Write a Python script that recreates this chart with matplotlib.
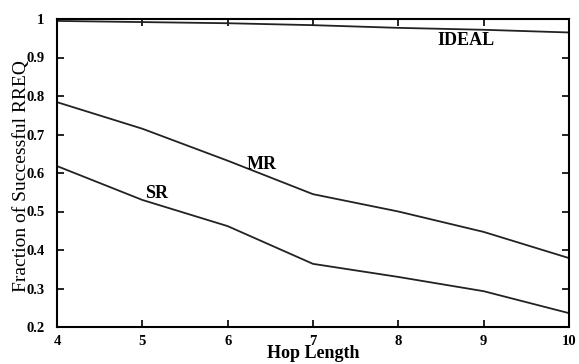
import matplotlib
matplotlib.use("Agg")
import matplotlib.pyplot as plt

hops = [4, 5, 6, 7, 8, 9, 10]
ideal = [0.995, 0.992, 0.989, 0.984, 0.977, 0.972, 0.965]
mr = [0.784, 0.715, 0.632, 0.545, 0.500, 0.447, 0.379]
sr = [0.618, 0.530, 0.462, 0.364, 0.330, 0.293, 0.236]
xticks = [4, 5, 6, 7, 8, 9, 10]
yticks = [0.2, 0.3, 0.4, 0.5, 0.6, 0.7, 0.8, 0.9, 1.0]
ytick_labels = ["0.2", "0.3", "0.4", "0.5", "0.6", "0.7", "0.8", "0.9", "1"]

plt.rcParams['font.family'] = ['Liberation Serif', 'DejaVu Serif']

fig = plt.figure(figsize=(5.79, 3.64), dpi=100)
ax = fig.add_axes([57/579, 1-327/364, (569-57)/579, (327-19)/364])

for series in (ideal, mr, sr):
    ax.plot(hops, series, color='#222222', lw=1.3)

ax.set_xlim(4, 10)
ax.set_ylim(0.2, 1.0)
ax.set_xticks(xticks)
ax.set_yticks(yticks)
ax.set_yticklabels(ytick_labels)
ax.tick_params(direction='in', top=True, right=True, length=5, width=1.2,
               labelsize=10.5)
ax.tick_params(axis='y', pad=9)
ax.tick_params(axis='x', pad=6)
for lab in ax.get_xticklabels() + ax.get_yticklabels():
    lab.set_fontweight('bold')
for s in ax.spines.values():
    s.set_linewidth(1.5)

ax.text(8.79, 0.943, "IDEAL", fontsize=13, fontweight='bold', ha='center', va='center')
ax.text(6.40, 0.621, "MR", fontsize=13, fontweight='bold', ha='center', va='center')
ax.text(5.17, 0.548, "SR", fontsize=13, fontweight='bold', ha='center', va='center')

ax.set_xlabel("Hop Length", fontsize=13, fontweight='bold')
ax.xaxis.set_label_coords(0.5, -18/308)
ax.set_ylabel("Fraction of Successful RREQ", fontsize=14)
ax.yaxis.set_label_coords(-27/512, 0.49)

fig.savefig("out.png", dpi=100)
